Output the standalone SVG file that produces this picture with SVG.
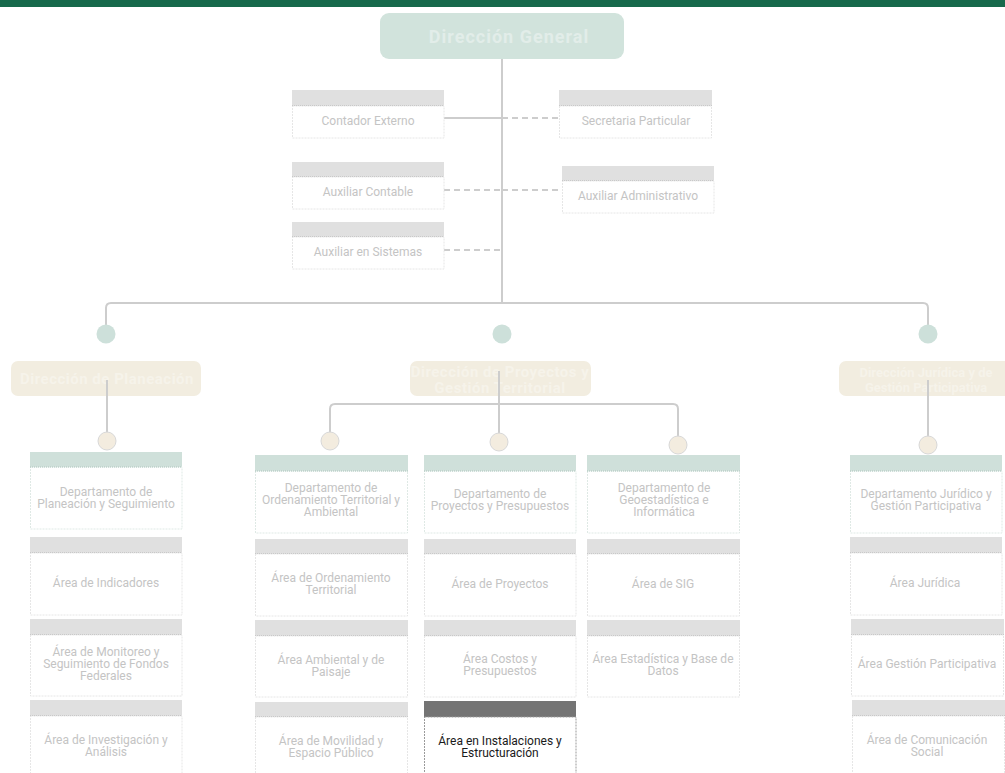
<svg xmlns="http://www.w3.org/2000/svg" width="1005" height="773" viewBox="0 0 1005 773">
<style>
text{font-family:Roboto,"Noto Sans","Liberation Sans",sans-serif;text-anchor:middle}
.t{font-size:12px;fill:#c4c4c4}
.td{font-size:12px;fill:#1a1a1a}
.hg{fill:#e0e0e0}
.hv{fill:#cfe0da}
.hd{fill:#747474}
.body{fill:#fff;stroke:#e6e6e6;stroke-width:1;stroke-dasharray:2 1}
.bodyv{fill:#fff;stroke:#dfe9e5;stroke-width:1;stroke-dasharray:2 1}
.bodyd{fill:#fff;stroke:#9a9a9a;stroke-width:1;stroke-dasharray:2 1}
.sep{stroke:#c9c9c9;stroke-width:1;stroke-dasharray:1 1}
.sepv{stroke:#aac4bb;stroke-width:1;stroke-dasharray:1 1}
.c{fill:none;stroke:#cdcdcd;stroke-width:2}
.cd{fill:none;stroke:#cdcdcd;stroke-width:2;stroke-dasharray:6 4}
.dot1{fill:#cde0da}
.dot2{fill:#f3ecdf;stroke:#d8d8d8;stroke-width:1}
.dir{fill:#f2ede0}
.dirt{font-size:15px;font-weight:bold;fill:#f6f3ea;letter-spacing:0.5px}
</style>
<rect x="0" y="0" width="1005" height="7" fill="#17694b"/>

<g id="connectors">
<path class="c" d="M502 59 V303"/>
<path class="c" d="M444 118 H502"/>
<path class="cd" d="M502 118 H559"/>
<path class="cd" d="M444 190 H502 M502 190 H562"/>
<path class="cd" d="M444 250 H501"/>
<path class="c" d="M106 334 V308 Q106 303 111 303 H923 Q928 303 928 308 V334"/>
<path class="c" d="M107 380 V441"/>
<path class="c" d="M499 371 V441"/>
<path class="c" d="M330 441 V409 Q330 404 335 404 H673 Q678 404 678 409 V445"/>
<path class="c" d="M928 380 V445"/>
</g>

<g id="dg">
<rect x="380" y="13" width="244" height="46" rx="9" fill="#d1e3dc"/>
<text x="509" y="43" style="font-size:18px;font-weight:bold;fill:#e2ede9;letter-spacing:1px">Dirección General</text>
</g>

<g id="n-contador">
<rect class="hg" x="292" y="90" width="152" height="16"/>
<rect class="body" x="292.5" y="106" width="151.5" height="32"/>
<line class="sep" x1="292" y1="105.5" x2="444" y2="105.5"/>
<text class="t" x="368" y="125">Contador Externo</text>
</g>
<g id="n-secretaria">
<rect class="hg" x="559" y="90" width="153" height="16"/>
<rect class="body" x="559.5" y="106" width="152" height="32"/>
<line class="sep" x1="559" y1="105.5" x2="712" y2="105.5"/>
<text class="t" x="636" y="125">Secretaria Particular</text>
</g>
<g id="n-auxcont">
<rect class="hg" x="292" y="162" width="152" height="15"/>
<rect class="body" x="292.5" y="177" width="151.5" height="32"/>
<line class="sep" x1="292" y1="176.5" x2="444" y2="176.5"/>
<text class="t" x="368" y="196">Auxiliar Contable</text>
</g>
<g id="n-auxadm">
<rect class="hg" x="562" y="166" width="152" height="15"/>
<rect class="body" x="562.5" y="181" width="151.5" height="32"/>
<line class="sep" x1="562" y1="180.5" x2="714" y2="180.5"/>
<text class="t" x="638" y="200">Auxiliar Administrativo</text>
</g>
<g id="n-auxsis">
<rect class="hg" x="292" y="222" width="152" height="15"/>
<rect class="body" x="292.5" y="237" width="151.5" height="32"/>
<line class="sep" x1="292" y1="236.5" x2="444" y2="236.5"/>
<text class="t" x="368" y="256">Auxiliar en Sistemas</text>
</g>

<g id="dots">
<circle class="dot1" cx="106" cy="334" r="9.5"/>
<circle class="dot1" cx="502" cy="334" r="9.5"/>
<circle class="dot1" cx="928" cy="334" r="9.5"/>
</g>

<g id="dir-planeacion">
<rect class="dir" x="11" y="361" width="190" height="35" rx="7"/>
<text class="dirt" x="107" y="384">Dirección de Planeación</text>
<path class="c" d="M107 380 V396"/>
</g>
<g id="dir-proyectos">
<rect class="dir" x="410" y="361" width="181" height="35" rx="7"/>
<text class="dirt" x="500" y="377">Dirección de Proyectos y</text>
<text class="dirt" x="500" y="393">Gestión Territorial</text>
<path class="c" d="M499 371 V396"/>
</g>
<g id="dir-juridica">
<rect class="dir" x="839" y="361" width="180" height="35" rx="7"/>
<text class="dirt" x="926" y="377" style="font-size:13px;letter-spacing:0">Dirección Jurídica y de</text>
<text class="dirt" x="926" y="392" style="font-size:13px;letter-spacing:0">Gestión Participativa</text>
<path class="c" d="M928 380 V396"/>
</g>

<g id="dots2">
<circle class="dot2" cx="107" cy="441" r="9"/>
<circle class="dot2" cx="330" cy="441" r="9"/>
<circle class="dot2" cx="499" cy="442" r="9"/>
<circle class="dot2" cx="678" cy="445" r="9"/>
<circle class="dot2" cx="928" cy="445" r="9"/>
</g>

<!-- Column 1 -->
<g id="c1-dep">
<rect class="hv" x="30" y="452" width="152" height="15"/>
<rect class="bodyv" x="30.5" y="467" width="151.5" height="62"/>
<line class="sepv" x1="30" y1="467" x2="182" y2="467"/>
<text class="t" x="106" y="496">Departamento de</text>
<text class="t" x="106" y="508">Planeación y Seguimiento</text>
</g>
<g id="c1-a1">
<rect class="hg" x="30" y="537" width="152" height="16"/>
<rect class="body" x="30.5" y="553" width="151.5" height="62"/>
<line class="sep" x1="30" y1="552.5" x2="182" y2="552.5"/>
<text class="t" x="106" y="587">Área de Indicadores</text>
</g>
<g id="c1-a2">
<rect class="hg" x="30" y="619" width="152" height="16"/>
<rect class="body" x="30.5" y="635" width="151.5" height="61"/>
<line class="sep" x1="30" y1="634.5" x2="182" y2="634.5"/>
<text class="t" x="106" y="656">Área de Monitoreo y</text>
<text class="t" x="106" y="668">Seguimiento de Fondos</text>
<text class="t" x="106" y="680">Federales</text>
</g>
<g id="c1-a3">
<rect class="hg" x="30" y="700" width="152" height="16"/>
<rect class="body" x="30.5" y="716" width="151.5" height="62"/>
<line class="sep" x1="30" y1="715.5" x2="182" y2="715.5"/>
<text class="t" x="106" y="744">Área de Investigación y</text>
<text class="t" x="106" y="756">Análisis</text>
</g>

<!-- Column 2 -->
<g id="c2-dep">
<rect class="hv" x="255" y="455" width="153" height="16"/>
<rect class="bodyv" x="255.5" y="471" width="152" height="62"/>
<line class="sepv" x1="255" y1="471" x2="408" y2="471"/>
<text class="t" x="331" y="492">Departamento de</text>
<text class="t" x="331" y="504">Ordenamiento Territorial y</text>
<text class="t" x="331" y="516">Ambiental</text>
</g>
<g id="c2-a1">
<rect class="hg" x="255" y="539" width="153" height="15"/>
<rect class="body" x="255.5" y="554" width="152" height="62"/>
<line class="sep" x1="255" y1="553.5" x2="408" y2="553.5"/>
<text class="t" x="331" y="582">Área de Ordenamiento</text>
<text class="t" x="331" y="594">Territorial</text>
</g>
<g id="c2-a2">
<rect class="hg" x="255" y="620" width="153" height="16"/>
<rect class="body" x="255.5" y="636" width="152" height="61"/>
<line class="sep" x1="255" y1="635.5" x2="408" y2="635.5"/>
<text class="t" x="331" y="664">Área Ambiental y de</text>
<text class="t" x="331" y="676">Paisaje</text>
</g>
<g id="c2-a3">
<rect class="hg" x="255" y="702" width="153" height="15"/>
<rect class="body" x="255.5" y="717" width="152" height="62"/>
<line class="sep" x1="255" y1="716.5" x2="408" y2="716.5"/>
<text class="t" x="331" y="745">Área de Movilidad y</text>
<text class="t" x="331" y="757">Espacio Público</text>
</g>

<!-- Column 3 -->
<g id="c3-dep">
<rect class="hv" x="424" y="455" width="152" height="16"/>
<rect class="bodyv" x="424.5" y="471" width="151.5" height="62"/>
<line class="sepv" x1="424" y1="471" x2="576" y2="471"/>
<text class="t" x="500" y="498">Departamento de</text>
<text class="t" x="500" y="510">Proyectos y Presupuestos</text>
</g>
<g id="c3-a1">
<rect class="hg" x="424" y="539" width="152" height="15"/>
<rect class="body" x="424.5" y="554" width="151.5" height="62"/>
<line class="sep" x1="424" y1="553.5" x2="576" y2="553.5"/>
<text class="t" x="500" y="588">Área de Proyectos</text>
</g>
<g id="c3-a2">
<rect class="hg" x="424" y="620" width="152" height="16"/>
<rect class="body" x="424.5" y="636" width="151.5" height="61"/>
<line class="sep" x1="424" y1="635.5" x2="576" y2="635.5"/>
<text class="t" x="500" y="663">Área Costos y</text>
<text class="t" x="500" y="675">Presupuestos</text>
</g>
<g id="c3-a3">
<rect class="hd" x="424" y="701" width="152" height="16"/>
<rect class="bodyd" x="424.5" y="717" width="151.5" height="62"/>
<text class="td" x="500" y="745">Área en Instalaciones y</text>
<text class="td" x="500" y="757">Estructuración</text>
</g>

<!-- Column 4 -->
<g id="c4-dep">
<rect class="hv" x="587" y="455" width="153" height="16"/>
<rect class="bodyv" x="587.5" y="471" width="152" height="62"/>
<line class="sepv" x1="587" y1="471" x2="740" y2="471"/>
<text class="t" x="664" y="492">Departamento de</text>
<text class="t" x="664" y="504">Geoestadística e</text>
<text class="t" x="664" y="516">Informática</text>
</g>
<g id="c4-a1">
<rect class="hg" x="587" y="539" width="153" height="15"/>
<rect class="body" x="587.5" y="554" width="152" height="62"/>
<line class="sep" x1="587" y1="553.5" x2="740" y2="553.5"/>
<text class="t" x="663" y="588">Área de SIG</text>
</g>
<g id="c4-a2">
<rect class="hg" x="587" y="620" width="153" height="16"/>
<rect class="body" x="587.5" y="636" width="152" height="61"/>
<line class="sep" x1="587" y1="635.5" x2="740" y2="635.5"/>
<text class="t" x="663" y="663">Área Estadística y Base de</text>
<text class="t" x="663" y="675">Datos</text>
</g>

<!-- Column 5 -->
<g id="c5-dep">
<rect class="hv" x="850" y="455" width="152" height="16"/>
<rect class="bodyv" x="850.5" y="471" width="151.5" height="62"/>
<line class="sepv" x1="850" y1="471" x2="1002" y2="471"/>
<text class="t" x="926" y="498">Departamento Jurídico y</text>
<text class="t" x="926" y="510">Gestión Participativa</text>
</g>
<g id="c5-a1">
<rect class="hg" x="850" y="537" width="152" height="16"/>
<rect class="body" x="850.5" y="553" width="151.5" height="62"/>
<line class="sep" x1="850" y1="552.5" x2="1002" y2="552.5"/>
<text class="t" x="925" y="587">Área Jurídica</text>
</g>
<g id="c5-a2">
<rect class="hg" x="851" y="619" width="153" height="16"/>
<rect class="body" x="851.5" y="635" width="152" height="61"/>
<line class="sep" x1="851" y1="634.5" x2="1004" y2="634.5"/>
<text class="t" x="927" y="668">Área Gestión Participativa</text>
</g>
<g id="c5-a3">
<rect class="hg" x="852" y="700" width="153" height="16"/>
<rect class="body" x="852.5" y="716" width="152" height="62"/>
<line class="sep" x1="852" y1="715.5" x2="1005" y2="715.5"/>
<text class="t" x="927" y="744">Área de Comunicación</text>
<text class="t" x="927" y="756">Social</text>
</g>
</svg>
